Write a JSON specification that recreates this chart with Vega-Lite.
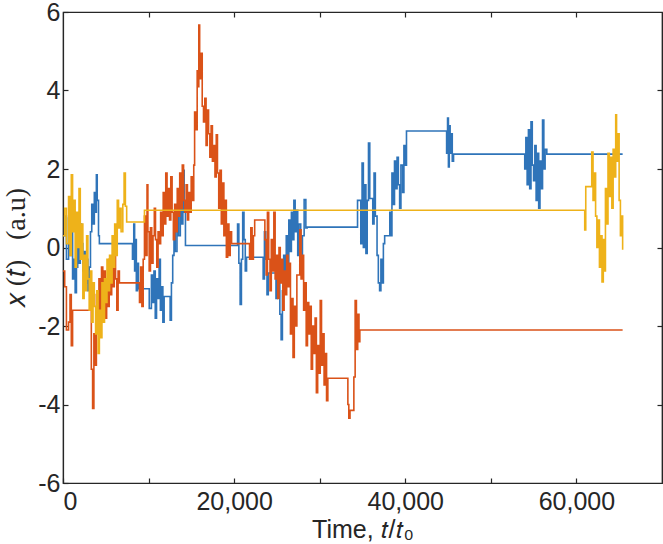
{
  "$schema": "https://vega.github.io/schema/vega-lite/v6.json",
  "width": 599,
  "height": 471,
  "autosize": "none",
  "padding": {"left": 63, "top": 12, "right": 1, "bottom": 61},
  "background": "white",
  "config": {
    "view": {"stroke": "#262626", "strokeWidth": 1.2},
    "axis": {"grid": false, "domainColor": "#262626", "tickColor": "#262626", "labelColor": "#262626", "titleColor": "#262626", "labelFont": "Liberation Sans", "labelFontSize": 25, "titleFontWeight": "normal", "titleFontSize": 25, "domainWidth": 1.2, "tickWidth": 1.2}
  },
  "datasets": {
    "walks": [
      {"s":"A","t":0,"x":0.3},{"s":"A","t":200,"x":0.8},{"s":"A","t":400,"x":-0.3},{"s":"A","t":650,"x":0.75},{"s":"A","t":820,"x":-0.2},{"s":"A","t":970,"x":0.5},{"s":"A","t":1120,"x":-0.8},{"s":"A","t":1270,"x":-0.3},{"s":"A","t":1420,"x":-1.15},{"s":"A","t":1570,"x":-0.5},{"s":"A","t":1720,"x":0.2},{"s":"A","t":1870,"x":-0.4},{"s":"A","t":2020,"x":0.6},{"s":"A","t":2170,"x":0.1},{"s":"A","t":2320,"x":-0.6},{"s":"A","t":2470,"x":-0.1},{"s":"A","t":2610,"x":-0.9},{"s":"A","t":2760,"x":-0.3},{"s":"A","t":2910,"x":-1.1},{"s":"A","t":3060,"x":-0.5},{"s":"A","t":3210,"x":0.4},{"s":"A","t":3360,"x":1.1},{"s":"A","t":3510,"x":0.6},{"s":"A","t":3660,"x":1.4},{"s":"A","t":3810,"x":0.9},{"s":"A","t":3900,"x":1.85},{"s":"A","t":4000,"x":1.2},{"s":"A","t":4150,"x":0.3},{"s":"A","t":4250,"x":0.1},
      {"s":"A","t":8120,"x":-0.3},{"s":"A","t":8270,"x":0.6},{"s":"A","t":8370,"x":-0.6},{"s":"A","t":8470,"x":0.2},{"s":"A","t":8570,"x":-1.1},{"s":"A","t":8720,"x":-0.4},{"s":"A","t":8820,"x":-1.05},
      {"s":"A","t":10080,"x":-1.55},{"s":"A","t":10330,"x":-0.7},{"s":"A","t":10480,"x":-1.4},{"s":"A","t":10630,"x":-0.6},{"s":"A","t":10780,"x":-1.8},{"s":"A","t":10930,"x":-0.8},{"s":"A","t":11080,"x":-1.3},{"s":"A","t":11230,"x":-0.3},{"s":"A","t":11380,"x":-1.6},{"s":"A","t":11530,"x":-1.0},{"s":"A","t":11670,"x":-1.9},{"s":"A","t":11820,"x":-1.25},{"s":"A","t":12520,"x":-1.85},{"s":"A","t":12670,"x":-0.9},{"s":"A","t":12820,"x":-0.2},{"s":"A","t":12970,"x":0.4},{"s":"A","t":13120,"x":-0.1},{"s":"A","t":13320,"x":0.8},{"s":"A","t":13510,"x":0.3},{"s":"A","t":13710,"x":1.2},{"s":"A","t":13860,"x":0.6},{"s":"A","t":14010,"x":1.97},{"s":"A","t":14160,"x":0.9},{"s":"A","t":14310,"x":0.05},
      {"s":"A","t":20400,"x":0.6},{"s":"A","t":20550,"x":-0.4},{"s":"A","t":20700,"x":-1.45},{"s":"A","t":20850,"x":-0.3},{"s":"A","t":21000,"x":0.9},{"s":"A","t":21150,"x":0.2},{"s":"A","t":21300,"x":-0.6},{"s":"A","t":21450,"x":-0.25},
      {"s":"A","t":23390,"x":-0.8},{"s":"A","t":23540,"x":0.4},{"s":"A","t":23690,"x":-0.3},{"s":"A","t":23840,"x":-1.2},{"s":"A","t":23990,"x":-0.65},
      {"s":"A","t":24890,"x":-1.3},{"s":"A","t":25040,"x":-0.4},{"s":"A","t":25190,"x":-0.9},{"s":"A","t":25340,"x":-1.7},{"s":"A","t":25490,"x":-2.35},{"s":"A","t":25640,"x":-1.1},{"s":"A","t":25790,"x":-0.2},{"s":"A","t":25940,"x":-0.9},{"s":"A","t":26090,"x":0.3},{"s":"A","t":26240,"x":-0.5},{"s":"A","t":26390,"x":0.7},{"s":"A","t":26540,"x":-0.1},{"s":"A","t":26690,"x":0.9},{"s":"A","t":26840,"x":0.2},{"s":"A","t":26980,"x":1.2},{"s":"A","t":27130,"x":0.4},{"s":"A","t":27280,"x":0.95},{"s":"A","t":27430,"x":-0.2},{"s":"A","t":27580,"x":0.6},{"s":"A","t":27780,"x":-0.4},{"s":"A","t":27980,"x":0.3},{"s":"A","t":28180,"x":1.22},{"s":"A","t":28380,"x":0.5},{"s":"A","t":28530,"x":0.52},
      {"s":"A","t":34420,"x":1.2},{"s":"A","t":34800,"x":0.1},{"s":"A","t":34950,"x":2.15},{"s":"A","t":35100,"x":0.0},{"s":"A","t":35250,"x":1.6},{"s":"A","t":35400,"x":-0.15},{"s":"A","t":35550,"x":1.2},{"s":"A","t":35700,"x":2.66},{"s":"A","t":35850,"x":1.25},{"s":"A","t":36200,"x":0.6},{"s":"A","t":36350,"x":1.9},{"s":"A","t":36500,"x":0.8},{"s":"A","t":36700,"x":-0.2},{"s":"A","t":36850,"x":-0.9},{"s":"A","t":37000,"x":-1.1},{"s":"A","t":37150,"x":-0.3},{"s":"A","t":37290,"x":-0.9},{"s":"A","t":37440,"x":0.1},{"s":"A","t":37590,"x":0.3},{"s":"A","t":38190,"x":0.9},{"s":"A","t":38340,"x":0.3},{"s":"A","t":38440,"x":1.9},{"s":"A","t":38590,"x":1.1},{"s":"A","t":38740,"x":2.2},{"s":"A","t":38890,"x":1.5},{"s":"A","t":39040,"x":2.3},{"s":"A","t":39190,"x":1.6},{"s":"A","t":39340,"x":1.0},{"s":"A","t":39490,"x":2.1},{"s":"A","t":39690,"x":1.4},{"s":"A","t":39840,"x":2.6},{"s":"A","t":39990,"x":2.1},{"s":"A","t":40140,"x":2.97},
      {"s":"A","t":44830,"x":2.4},{"s":"A","t":44940,"x":3.3},{"s":"A","t":45040,"x":2.05},{"s":"A","t":45140,"x":3.1},{"s":"A","t":45240,"x":2.4},{"s":"A","t":45340,"x":2.9},{"s":"A","t":45490,"x":2.2},{"s":"A","t":45640,"x":2.38},
      {"s":"A","t":53960,"x":2.0},{"s":"A","t":54090,"x":2.8},{"s":"A","t":54240,"x":1.6},{"s":"A","t":54390,"x":3.0},{"s":"A","t":54540,"x":1.5},{"s":"A","t":54690,"x":3.2},{"s":"A","t":54840,"x":2.1},{"s":"A","t":54990,"x":1.7},{"s":"A","t":55140,"x":2.6},{"s":"A","t":55290,"x":1.2},{"s":"A","t":55440,"x":2.4},{"s":"A","t":55590,"x":1.0},{"s":"A","t":55740,"x":2.2},{"s":"A","t":55890,"x":1.5},{"s":"A","t":56040,"x":3.25},{"s":"A","t":56190,"x":2.0},{"s":"A","t":56340,"x":2.5},{"s":"A","t":56540,"x":2.38},{"s":"A","t":65400,"x":2.38},

      {"s":"B","t":0,"x":-0.6},{"s":"B","t":200,"x":-1.0},{"s":"B","t":400,"x":-2.1},{"s":"B","t":650,"x":-1.9},{"s":"B","t":820,"x":-1.2},{"s":"B","t":970,"x":-2.5},{"s":"B","t":1120,"x":-1.6},
      {"s":"B","t":3310,"x":-3.1},{"s":"B","t":3460,"x":-4.1},{"s":"B","t":3610,"x":-2.2},{"s":"B","t":3760,"x":-3.0},{"s":"B","t":3900,"x":-1.2},{"s":"B","t":4050,"x":-2.0},{"s":"B","t":4200,"x":-0.8},{"s":"B","t":4350,"x":-1.6},{"s":"B","t":4500,"x":-0.5},{"s":"B","t":4650,"x":-1.3},{"s":"B","t":4800,"x":-0.6},{"s":"B","t":4950,"x":-1.8},{"s":"B","t":5100,"x":-1.0},{"s":"B","t":5250,"x":-1.5},{"s":"B","t":5400,"x":-0.3},{"s":"B","t":5550,"x":-1.2},{"s":"B","t":5690,"x":-0.5},{"s":"B","t":5840,"x":-1.0},{"s":"B","t":5990,"x":-0.1},{"s":"B","t":6140,"x":-0.8},{"s":"B","t":6290,"x":-1.6},{"s":"B","t":6440,"x":-0.6},{"s":"B","t":6590,"x":-0.9},
      {"s":"B","t":8940,"x":-1.4},{"s":"B","t":9070,"x":-0.5},{"s":"B","t":9220,"x":-1.5},{"s":"B","t":9370,"x":-0.3},{"s":"B","t":9520,"x":0.8},{"s":"B","t":9670,"x":-0.2},{"s":"B","t":9820,"x":1.6},{"s":"B","t":9920,"x":0.4},{"s":"B","t":10070,"x":-0.6},{"s":"B","t":10220,"x":0.5},{"s":"B","t":10370,"x":-0.4},{"s":"B","t":10520,"x":0.3},{"s":"B","t":10670,"x":1.0},{"s":"B","t":10810,"x":0.2},{"s":"B","t":10960,"x":-0.5},{"s":"B","t":11110,"x":0.4},{"s":"B","t":11260,"x":0.1},{"s":"B","t":11410,"x":0.9},{"s":"B","t":11560,"x":0.3},{"s":"B","t":11710,"x":1.4},{"s":"B","t":11860,"x":0.6},{"s":"B","t":12010,"x":1.9},{"s":"B","t":12160,"x":0.8},{"s":"B","t":12310,"x":1.5},{"s":"B","t":12450,"x":0.7},{"s":"B","t":12600,"x":1.8},{"s":"B","t":12750,"x":0.9},{"s":"B","t":12900,"x":0.2},{"s":"B","t":13050,"x":1.1},{"s":"B","t":13200,"x":0.4},{"s":"B","t":13350,"x":1.5},{"s":"B","t":13490,"x":0.8},{"s":"B","t":13640,"x":1.9},{"s":"B","t":13790,"x":1.0},{"s":"B","t":13940,"x":2.1},{"s":"B","t":14090,"x":1.2},{"s":"B","t":14240,"x":0.9},{"s":"B","t":14390,"x":1.6},{"s":"B","t":14540,"x":0.7},{"s":"B","t":14680,"x":1.4},{"s":"B","t":14830,"x":0.9},{"s":"B","t":14980,"x":1.8},{"s":"B","t":15130,"x":1.2},{"s":"B","t":15280,"x":2.1},{"s":"B","t":15380,"x":3.45},{"s":"B","t":15530,"x":3.0},{"s":"B","t":15680,"x":4.5},{"s":"B","t":15780,"x":4.1},{"s":"B","t":15870,"x":5.67},{"s":"B","t":15970,"x":4.3},{"s":"B","t":16120,"x":4.95},{"s":"B","t":16270,"x":3.6},{"s":"B","t":16420,"x":3.2},{"s":"B","t":16570,"x":3.8},{"s":"B","t":16720,"x":2.6},{"s":"B","t":16860,"x":3.5},{"s":"B","t":17010,"x":2.9},{"s":"B","t":17160,"x":2.3},{"s":"B","t":17310,"x":3.1},{"s":"B","t":17460,"x":2.2},{"s":"B","t":17610,"x":2.6},{"s":"B","t":17760,"x":1.8},{"s":"B","t":17910,"x":2.87},{"s":"B","t":18050,"x":1.9},{"s":"B","t":18200,"x":1.0},{"s":"B","t":18350,"x":1.97},{"s":"B","t":18500,"x":0.6},{"s":"B","t":18650,"x":1.64},{"s":"B","t":18800,"x":0.3},{"s":"B","t":18940,"x":1.2},{"s":"B","t":19090,"x":-0.25},{"s":"B","t":19240,"x":0.6},{"s":"B","t":19390,"x":-0.2},{"s":"B","t":19540,"x":0.4},{"s":"B","t":19700,"x":0.1},
      {"s":"B","t":21800,"x":-0.3},{"s":"B","t":21950,"x":0.5},{"s":"B","t":22100,"x":-0.3},{"s":"B","t":22250,"x":0.3},{"s":"B","t":22400,"x":0.7},
      {"s":"B","t":23590,"x":0.2},{"s":"B","t":23740,"x":-0.7},{"s":"B","t":23890,"x":0.9},{"s":"B","t":24040,"x":-0.3},{"s":"B","t":24190,"x":-1.1},{"s":"B","t":24340,"x":0.2},{"s":"B","t":24490,"x":-0.6},{"s":"B","t":24640,"x":0.9},{"s":"B","t":24790,"x":-0.8},{"s":"B","t":24940,"x":-0.2},{"s":"B","t":25090,"x":-1.3},{"s":"B","t":25240,"x":0.0},{"s":"B","t":25390,"x":-0.9},{"s":"B","t":25540,"x":-0.3},{"s":"B","t":25690,"x":-1.6},{"s":"B","t":25840,"x":-0.6},{"s":"B","t":25990,"x":-1.2},{"s":"B","t":26140,"x":-0.2},{"s":"B","t":26290,"x":-1.0},{"s":"B","t":26440,"x":-0.4},{"s":"B","t":26580,"x":-2.2},{"s":"B","t":26730,"x":-1.3},{"s":"B","t":26880,"x":-2.8},{"s":"B","t":27030,"x":-1.5},{"s":"B","t":27180,"x":-2.0},{"s":"B","t":27330,"x":-0.7},{"s":"B","t":27670,"x":0.45},{"s":"B","t":27820,"x":-0.8},{"s":"B","t":27970,"x":-0.2},{"s":"B","t":28120,"x":-1.6},{"s":"B","t":28270,"x":-0.9},{"s":"B","t":28420,"x":-2.5},{"s":"B","t":28570,"x":-1.4},{"s":"B","t":28720,"x":-2.2},{"s":"B","t":28870,"x":-1.5},{"s":"B","t":29010,"x":-3.1},{"s":"B","t":29160,"x":-2.0},{"s":"B","t":29310,"x":-2.7},{"s":"B","t":29460,"x":-1.8},{"s":"B","t":29610,"x":-3.7},{"s":"B","t":29760,"x":-2.5},{"s":"B","t":29910,"x":-3.2},{"s":"B","t":30060,"x":-1.35},{"s":"B","t":30210,"x":-3.0},{"s":"B","t":30360,"x":-2.2},{"s":"B","t":30510,"x":-3.5},{"s":"B","t":30650,"x":-2.7},{"s":"B","t":30800,"x":-3.9},{"s":"B","t":30950,"x":-3.33},
      {"s":"B","t":33290,"x":-4.0},{"s":"B","t":33400,"x":-4.35},{"s":"B","t":33540,"x":-4.15},{"s":"B","t":33990,"x":-3.3},{"s":"B","t":34140,"x":-1.35},{"s":"B","t":34290,"x":-2.6},{"s":"B","t":34440,"x":-1.7},{"s":"B","t":34590,"x":-2.4},{"s":"B","t":34690,"x":-2.1},{"s":"B","t":65400,"x":-2.1},

      {"s":"C","t":0,"x":0.3},{"s":"C","t":200,"x":1.0},{"s":"C","t":400,"x":0.1},{"s":"C","t":650,"x":1.3},{"s":"C","t":820,"x":-0.2},{"s":"C","t":970,"x":1.85},{"s":"C","t":1120,"x":0.4},{"s":"C","t":1270,"x":1.2},{"s":"C","t":1420,"x":-0.5},{"s":"C","t":1570,"x":0.9},{"s":"C","t":1720,"x":0.0},{"s":"C","t":1870,"x":1.5},{"s":"C","t":2020,"x":-0.3},{"s":"C","t":2170,"x":0.6},{"s":"C","t":2320,"x":-1.3},{"s":"C","t":2470,"x":-0.2},{"s":"C","t":2610,"x":-1.1},{"s":"C","t":2760,"x":0.3},{"s":"C","t":2910,"x":-0.8},{"s":"C","t":3060,"x":-1.6},{"s":"C","t":3210,"x":-0.6},{"s":"C","t":3360,"x":-1.9},{"s":"C","t":3510,"x":-0.9},{"s":"C","t":3660,"x":-1.5},{"s":"C","t":3810,"x":-2.2},{"s":"C","t":3950,"x":-1.1},{"s":"C","t":4100,"x":-2.7},{"s":"C","t":4250,"x":-1.6},{"s":"C","t":4400,"x":-2.3},{"s":"C","t":4550,"x":-0.9},{"s":"C","t":4700,"x":-1.9},{"s":"C","t":4850,"x":-0.8},{"s":"C","t":5000,"x":-1.4},{"s":"C","t":5140,"x":-0.3},{"s":"C","t":5290,"x":-1.1},{"s":"C","t":5440,"x":-0.2},{"s":"C","t":5590,"x":-0.9},{"s":"C","t":5740,"x":0.3},{"s":"C","t":5890,"x":-0.5},{"s":"C","t":6040,"x":0.6},{"s":"C","t":6190,"x":-0.2},{"s":"C","t":6340,"x":1.2},{"s":"C","t":6490,"x":0.5},{"s":"C","t":6640,"x":1.0},{"s":"C","t":6790,"x":0.4},{"s":"C","t":6990,"x":1.1},{"s":"C","t":7140,"x":1.9},{"s":"C","t":7290,"x":1.05},{"s":"C","t":7440,"x":0.65},{"s":"C","t":9520,"x":0.95},
      {"s":"C","t":60970,"x":0.45},{"s":"C","t":61090,"x":1.55},{"s":"C","t":61790,"x":2.43},{"s":"C","t":61940,"x":1.2},{"s":"C","t":62090,"x":1.9},{"s":"C","t":62240,"x":0.8},{"s":"C","t":62390,"x":0.0},{"s":"C","t":62540,"x":0.7},{"s":"C","t":62690,"x":-0.5},{"s":"C","t":62840,"x":0.3},{"s":"C","t":62990,"x":-0.88},{"s":"C","t":63140,"x":0.2},{"s":"C","t":63290,"x":-0.6},{"s":"C","t":63390,"x":1.5},{"s":"C","t":63540,"x":0.6},{"s":"C","t":63690,"x":2.4},{"s":"C","t":63840,"x":1.3},{"s":"C","t":63990,"x":2.3},{"s":"C","t":64140,"x":1.0},{"s":"C","t":64290,"x":2.5},{"s":"C","t":64440,"x":1.8},{"s":"C","t":64590,"x":3.38},{"s":"C","t":64690,"x":2.2},{"s":"C","t":64840,"x":2.9},{"s":"C","t":64990,"x":1.2},{"s":"C","t":65140,"x":0.3},{"s":"C","t":65290,"x":0.8},{"s":"C","t":65400,"x":-0.06}
    ]
  },
  "data": {"name": "walks"},
  "layer": [
    {
      "mark": {"type": "line", "interpolate": "step-after", "strokeWidth": 1.6},
      "encoding": {
        "x": {"field": "t", "type": "quantitative", "scale": {"domain": [0, 70000], "nice": false, "zero": false},
          "axis": {"orient": "bottom", "values": [0, 10000, 20000, 30000, 40000, 50000, 60000], "labelExpr": "datum.value % 20000 == 0 ? format(datum.value, ',d') : ''", "labelFlush": true, "tickSize": -5, "labelPadding": 11, "title": "Time, \ud835\udc61/\ud835\udc61\u2080", "titleFont": "Liberation Sans", "titlePadding": 3}},
        "y": {"field": "x", "type": "quantitative", "scale": {"domain": [-6, 6], "nice": false},
          "axis": {"orient": "left", "values": [-6, -4, -2, 0, 2, 4, 6], "labelExpr": "'' + datum.value", "tickSize": -5, "labelPadding": 8, "title": "\ud835\udc65\u2009(\ud835\udc61)\u2002\u2009(a.u)", "titleFont": "Liberation Serif", "titleFontSize": 28, "titlePadding": 7}},
        "color": {"field": "s", "type": "nominal", "scale": {"domain": ["A", "B", "C"], "range": ["#2F74B9", "#DA5218", "#EEB21A"]}, "legend": null}
      }
    },
    {
      "mark": {"type": "line", "opacity": 0},
      "encoding": {
        "x": {"field": "t", "type": "quantitative", "scale": {"domain": [0, 70000], "nice": false, "zero": false},
          "axis": {"orient": "top", "values": [10000, 20000, 30000, 40000, 50000, 60000], "labels": false, "tickSize": -5, "title": null}},
        "y": {"field": "x", "type": "quantitative", "scale": {"domain": [-6, 6], "nice": false},
          "axis": {"orient": "right", "values": [-4, -2, 0, 2, 4], "labels": false, "tickSize": -5, "title": null}},
        "detail": {"field": "s"}
      }
    }
  ],
  "resolve": {"axis": {"x": "independent", "y": "independent"}}
}
